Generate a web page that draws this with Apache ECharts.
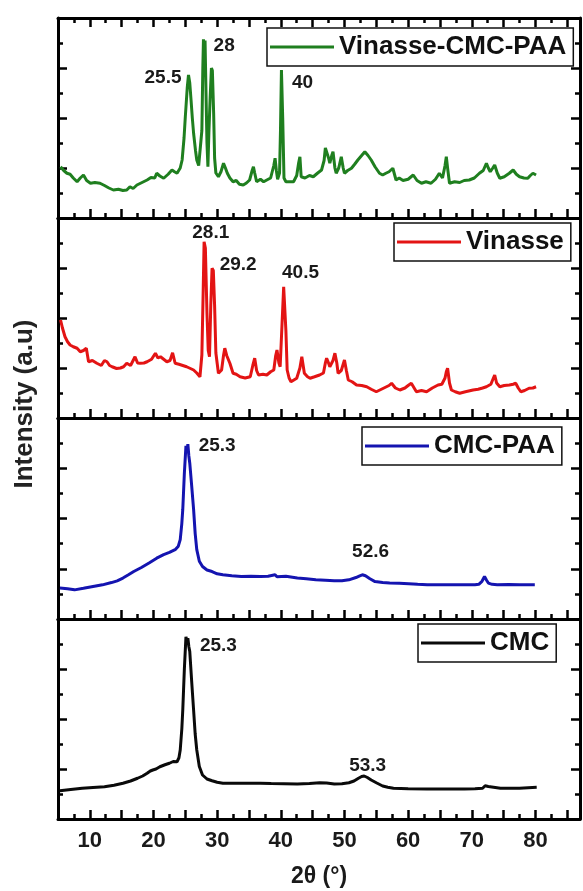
<!DOCTYPE html>
<html>
<head>
<meta charset="utf-8">
<script src="https://cdn.jsdelivr.net/npm/echarts@6/dist/echarts.min.js"></script>
<style>html,body{margin:0;padding:0;background:#fff}#c{width:583px;height:891px}</style>
</head>
<body>
<div id="c"></div>
<script>
// ---------- data (2θ in degrees, intensity in arbitrary units per panel) ----------
const seriesNames = ['Vinasse-CMC-PAA', 'Vinasse', 'CMC-PAA', 'CMC'];
const xTickValues = [10, 20, 30, 40, 50, 60, 70, 80];

const vinasseCmcPaa = [[5.4,2.05],[5.9,1.9],[6.4,1.79],[6.9,1.75],[7.4,1.6],[8.0,1.45],[8.5,1.6],[9.0,1.72],[9.5,1.5],[10.1,1.39],[10.8,1.42],[11.6,1.39],[12.3,1.3],[13.0,1.2],[13.7,1.12],[14.5,1.15],[15.2,1.1],[15.8,1.12],[16.3,1.25],[16.8,1.18],[17.4,1.32],[18.2,1.42],[19.0,1.52],[19.6,1.62],[20.2,1.6],[20.5,1.79],[21.0,1.68],[21.6,1.59],[22.3,1.75],[22.9,1.92],[23.3,1.85],[23.7,1.79],[24.2,2.0],[24.5,2.32],[24.8,3.2],[25.0,4.05],[25.3,5.2],[25.5,5.72],[25.7,5.4],[25.9,4.72],[26.1,4.0],[26.3,3.39],[26.6,2.7],[26.8,2.32],[27.1,2.1],[27.4,2.05],[27.6,3.5],[27.75,6.0],[27.85,7.15],[28.0,6.2],[28.1,7.1],[28.25,5.0],[28.4,3.0],[28.55,2.05],[28.7,3.4],[28.9,4.8],[29.1,6.0],[29.25,5.9],[29.45,4.2],[29.6,2.4],[29.8,1.8],[30.2,1.65],[30.6,1.85],[31.0,2.19],[31.3,2.0],[31.6,1.79],[32.0,1.6],[32.5,1.45],[33.0,1.5],[33.5,1.35],[34.1,1.32],[34.6,1.4],[35.1,1.52],[35.5,1.9],[35.7,2.05],[35.9,1.8],[36.2,1.45],[36.8,1.55],[37.3,1.45],[37.8,1.52],[38.4,1.6],[38.9,2.1],[39.1,2.39],[39.3,1.9],[39.5,1.55],[39.8,1.8],[39.95,3.5],[40.1,5.92],[40.3,4.0],[40.5,1.6],[40.8,1.45],[41.4,1.45],[42.0,1.45],[42.5,1.7],[42.8,2.2],[43.0,2.45],[43.2,1.65],[43.8,1.6],[44.5,1.7],[45.1,1.65],[45.8,1.8],[46.4,1.92],[46.8,2.3],[47.0,2.8],[47.2,2.85],[47.5,2.4],[47.7,2.19],[48.0,2.5],[48.2,2.65],[48.5,2.0],[48.7,1.79],[49.1,2.0],[49.5,2.45],[49.8,2.0],[50.0,1.79],[50.5,1.9],[51.1,1.99],[51.6,2.15],[52.1,2.32],[52.7,2.5],[53.2,2.65],[53.7,2.5],[54.2,2.32],[54.8,2.05],[55.5,1.79],[56.0,1.72],[56.5,1.79],[57.0,1.85],[57.6,1.99],[58.1,1.52],[58.6,1.6],[59.2,1.5],[60.0,1.55],[60.8,1.72],[61.4,1.5],[62.1,1.39],[62.8,1.45],[63.6,1.39],[64.3,1.55],[64.9,1.79],[65.4,1.6],[65.8,2.1],[66.0,2.45],[66.2,2.0],[66.5,1.39],[67.3,1.45],[68.1,1.42],[68.8,1.5],[69.6,1.52],[70.4,1.6],[71.2,1.79],[71.8,1.9],[72.3,2.19],[72.6,2.0],[72.9,1.85],[73.3,2.0],[73.6,2.12],[74.0,1.8],[74.4,1.59],[75.1,1.65],[75.9,1.79],[76.5,1.92],[77.0,1.75],[77.5,1.65],[78.2,1.6],[78.8,1.59],[79.2,1.7],[79.6,1.79],[80.1,1.72]];

const vinasse = [[5.4,3.92],[5.7,3.6],[6.1,3.25],[6.5,3.05],[6.9,2.92],[7.4,2.85],[8.0,2.79],[8.5,2.65],[9.0,2.7],[9.45,2.79],[9.8,2.25],[10.4,2.3],[11.1,2.19],[11.8,2.1],[12.3,2.3],[12.7,2.25],[13.1,2.1],[13.5,2.05],[14.2,1.98],[14.8,2.0],[15.3,2.05],[15.8,2.19],[16.4,2.1],[17.1,2.45],[17.5,2.2],[17.9,2.19],[18.5,2.2],[19.0,2.25],[19.7,2.35],[20.3,2.59],[20.7,2.4],[21.1,2.45],[21.6,2.35],[22.1,2.25],[22.6,2.3],[23.0,2.61],[23.4,2.19],[24.0,2.15],[24.6,2.1],[25.2,2.05],[25.8,1.98],[26.3,1.92],[26.8,1.8],[27.3,1.65],[27.6,2.52],[27.8,5.0],[27.95,7.05],[28.15,6.8],[28.4,4.2],[28.6,2.7],[28.8,2.45],[29.0,4.5],[29.2,5.99],[29.4,5.9],[29.6,4.5],[29.8,2.6],[30.2,1.79],[30.7,1.92],[31.0,2.5],[31.2,2.79],[31.5,2.5],[32.0,2.19],[32.5,1.79],[33.0,1.75],[33.6,1.65],[34.4,1.6],[35.2,1.65],[35.6,2.1],[35.9,2.39],[36.2,1.9],[36.5,1.72],[37.2,1.75],[37.8,1.72],[38.4,1.85],[38.9,1.92],[39.2,2.5],[39.4,2.72],[39.7,2.2],[39.9,2.05],[40.2,3.8],[40.45,5.25],[40.65,5.2],[40.8,3.5],[41.0,1.92],[41.3,1.6],[41.6,1.45],[41.9,1.39],[42.5,1.59],[43.0,2.0],[43.3,2.45],[43.7,1.79],[44.2,1.65],[44.6,1.59],[45.3,1.65],[46.1,1.72],[46.7,1.8],[47.0,2.2],[47.2,2.39],[47.5,2.2],[47.7,2.05],[48.2,2.3],[48.5,2.59],[48.8,2.2],[49.0,1.79],[49.5,1.9],[50.0,2.32],[50.3,1.9],[50.6,1.52],[51.2,1.45],[51.9,1.32],[52.7,1.3],[53.5,1.25],[54.2,1.15],[55.0,1.05],[55.8,1.15],[56.6,1.25],[57.0,1.3],[57.4,1.39],[58.0,1.2],[58.7,1.12],[59.5,1.2],[60.0,1.3],[60.5,1.39],[61.3,1.05],[62.1,1.1],[62.9,1.05],[63.8,1.2],[64.7,1.32],[65.3,1.35],[65.8,1.6],[66.0,1.85],[66.2,1.99],[66.5,1.4],[66.8,1.12],[67.4,1.05],[68.1,0.99],[69.0,1.05],[70.2,1.12],[71.0,1.15],[71.7,1.2],[72.3,1.25],[73.0,1.35],[73.4,1.6],[73.6,1.72],[73.9,1.4],[74.4,1.25],[75.1,1.3],[75.9,1.32],[76.5,1.35],[76.9,1.39],[77.3,1.2],[77.7,1.05],[78.3,1.1],[79.0,1.19],[79.6,1.2],[80.1,1.25]];

const cmcPaa = [[5.3,1.23],[6.5,1.2],[7.6,1.16],[9.0,1.22],[10.5,1.29],[12.0,1.36],[13.4,1.45],[14.3,1.52],[15.2,1.63],[16.0,1.75],[16.9,1.89],[18.1,2.05],[19.3,2.23],[20.5,2.42],[21.6,2.56],[22.5,2.65],[23.4,2.76],[23.9,2.9],[24.2,3.16],[24.45,3.8],[24.6,4.36],[24.85,5.8],[25.1,6.89],[25.25,6.6],[25.4,6.96],[25.55,6.5],[25.7,6.2],[26.0,5.3],[26.3,4.36],[26.55,3.4],[26.8,2.76],[27.2,2.3],[27.7,2.09],[28.4,1.95],[29.2,1.89],[30.0,1.8],[30.9,1.76],[32.3,1.72],[33.8,1.69],[35.3,1.7],[36.8,1.69],[38.0,1.7],[39.1,1.76],[39.4,1.68],[40.8,1.7],[42.6,1.63],[44.0,1.6],[45.5,1.56],[47.0,1.54],[48.4,1.52],[49.6,1.52],[50.7,1.56],[51.8,1.65],[52.4,1.72],[52.8,1.76],[53.3,1.72],[54.0,1.6],[54.8,1.49],[56.0,1.45],[57.1,1.43],[58.6,1.42],[60.1,1.4],[61.5,1.38],[63.0,1.36],[65.9,1.36],[68.8,1.36],[70.5,1.36],[71.1,1.38],[71.6,1.5],[72.0,1.69],[72.3,1.55],[72.6,1.43],[73.2,1.38],[74.0,1.36],[75.8,1.37],[77.5,1.36],[79.9,1.36]];

const cmc = [[5.3,1.13],[7.0,1.18],[8.8,1.23],[10.5,1.26],[12.3,1.29],[13.8,1.35],[15.2,1.43],[16.4,1.52],[17.5,1.63],[18.3,1.72],[19.0,1.83],[19.5,1.92],[19.9,1.96],[20.4,2.0],[21.0,2.09],[21.8,2.17],[22.5,2.23],[23.1,2.3],[23.7,2.29],[24.0,2.45],[24.2,2.76],[24.45,3.6],[24.6,4.36],[24.85,6.0],[25.1,7.29],[25.25,7.1],[25.4,7.23],[25.55,6.9],[25.7,6.7],[26.0,5.5],[26.3,4.36],[26.55,3.4],[26.8,2.76],[27.2,2.1],[27.7,1.76],[28.4,1.6],[29.2,1.53],[30.0,1.47],[30.9,1.43],[33.0,1.43],[35.0,1.43],[36.8,1.43],[38.5,1.42],[40.5,1.41],[42.6,1.40],[44.5,1.42],[46.1,1.45],[47.2,1.44],[48.4,1.40],[49.6,1.41],[50.7,1.45],[51.5,1.52],[52.2,1.63],[52.7,1.7],[53.1,1.72],[53.6,1.66],[54.2,1.56],[55.0,1.45],[56.0,1.32],[56.8,1.27],[57.7,1.23],[60.0,1.21],[63.0,1.2],[66.0,1.2],[68.8,1.2],[70.5,1.21],[71.7,1.23],[72.1,1.33],[72.3,1.40],[72.6,1.3],[72.9,1.23],[74.5,1.23],[77.5,1.23],[80.2,1.27]];

// peak annotations: [label, 2θ position of text centre, intensity position of text centre]
const peaksVinasseCmcPaa = [['25.5', 21.5, 5.6], ['28', 31.1, 6.9], ['40', 43.4, 5.4]];
const peaksVinasse = [['28.1', 29.0, 7.42], ['29.2', 33.3, 6.12], ['40.5', 43.1, 5.79]];
const peaksCmcPaa = [['25.3', 30.0, 6.89], ['52.6', 54.1, 2.66]];
const peaksCmc = [['25.3', 30.2, 6.93], ['53.3', 53.65, 2.14]];

// ---------- chart ----------
const FONT = '"Liberation Sans", Arial, sans-serif';
const colors = ['#1f7f1f', '#e31414', '#1414b0', '#0a0a0a'];
const datasets = [vinasseCmcPaa, vinasse, cmcPaa, cmc];
const peaks = [peaksVinasseCmcPaa, peaksVinasse, peaksCmcPaa, peaksCmc];
const gridBoxes = [{top: 18, height: 200}, {top: 218, height: 200}, {top: 418, height: 201}, {top: 619, height: 200}];
const legendBoxes = [{left: 267, top: 28}, {left: 394, top: 223}, {left: 362, top: 427}, {left: 418, top: 624}];

const X_MIN = 5, X_MAX = 87;
const lineCol = '#000';

const grid = gridBoxes.map(b => ({left: 58, right: 3, top: b.top, height: b.height, containLabel: false}));

const xAxis = [];
gridBoxes.forEach((b, g) => {
  const isLast = g === 3, isFirst = g === 0;
  xAxis.push({type: 'value', gridIndex: g, position: 'bottom', min: X_MIN, max: X_MAX, interval: 2.5,
    axisLine: {show: true, onZero: false, lineStyle: {color: lineCol, width: 3}},
    axisTick: {show: true, inside: true, length: 5, interval: 0, lineStyle: {color: lineCol, width: 2.5}},
    axisLabel: {show: false}, splitLine: {show: false}});
  xAxis.push({type: 'value', gridIndex: g, position: 'bottom', min: X_MIN, max: X_MAX, interval: 5,
    axisLine: {show: false, onZero: false},
    axisTick: {show: true, inside: true, length: 9, interval: 0, lineStyle: {color: lineCol, width: 2.5}},
    axisLabel: {show: isLast, interval: 0, margin: 11, fontSize: 22, fontWeight: 'bold', color: '#1a1a1a', fontFamily: FONT,
      formatter: v => xTickValues.indexOf(v) >= 0 ? String(v) : ''},
    splitLine: {show: false},
    name: isLast ? '2θ (°)' : '', nameLocation: 'middle', nameGap: 46,
    nameTextStyle: {fontSize: 23, fontWeight: 'bold', color: '#1a1a1a', fontFamily: FONT}});
  xAxis.push({type: 'value', gridIndex: g, position: 'top', min: X_MIN, max: X_MAX, interval: 2.5,
    axisLine: {show: true, onZero: false, lineStyle: {color: lineCol, width: 3}},
    axisTick: {show: isFirst, inside: true, length: 5, interval: 0, lineStyle: {color: lineCol, width: 2.5}},
    axisLabel: {show: false}, splitLine: {show: false}});
  xAxis.push({type: 'value', gridIndex: g, position: 'top', min: X_MIN, max: X_MAX, interval: 5,
    axisLine: {show: false, onZero: false},
    axisTick: {show: isFirst, inside: true, length: 9, interval: 0, lineStyle: {color: lineCol, width: 2.5}},
    axisLabel: {show: false}, splitLine: {show: false}});
});

const yAxis = [];
gridBoxes.forEach((b, g) => {
  ['left', 'right'].forEach(pos => {
    yAxis.push({type: 'value', gridIndex: g, position: pos, min: 0, max: 8, interval: 2,
      axisLine: {show: true, onZero: false, lineStyle: {color: lineCol, width: 3}},
      axisTick: {show: true, inside: true, length: 9, lineStyle: {color: lineCol, width: 2.5}},
      minorTick: {show: true, splitNumber: 2, length: 5, lineStyle: {color: lineCol, width: 2.5}},
      axisLabel: {show: false}, splitLine: {show: false}, minorSplitLine: {show: false}});
  });
});

const series = datasets.map((d, g) => ({
  name: seriesNames[g], type: 'line', xAxisIndex: 4 * g + 1, yAxisIndex: 2 * g,
  data: d, showSymbol: false, symbol: 'none', smooth: false,
  lineStyle: {color: colors[g], width: 3}, itemStyle: {color: colors[g]},
  markPoint: {
    symbol: 'circle', symbolSize: 1, silent: true, animation: false,
    itemStyle: {color: 'rgba(0,0,0,0)'},
    label: {show: true, position: 'inside', formatter: p => p.name, fontSize: 19, fontWeight: 'bold', color: '#1a1a1a', fontFamily: FONT},
    data: peaks[g].map(p => ({name: p[0], coord: [p[1], p[2]]}))
  }
}));

const legend = legendBoxes.map((lb, g) => ({
  data: [seriesNames[g]], left: lb.left, top: lb.top, orient: 'horizontal',
  icon: 'rect', itemWidth: 64, itemHeight: 3, itemGap: 0,
  padding: [6, 7, 6, 3], borderColor: '#111', borderWidth: 1.5, backgroundColor: '#fff',
  selectedMode: false,
  textStyle: {fontSize: 26, fontWeight: 'bold', color: '#111', fontFamily: FONT}
}));

const option = {
  animation: false,
  backgroundColor: '#fff',
  textStyle: {fontFamily: FONT},
  grid, xAxis, yAxis, series, legend,
  graphic: [{
    type: 'text', x: 25, y: 404, rotation: Math.PI / 2,
    style: {text: 'Intensity (a.u)', fontSize: 26, fontWeight: 'bold', fontFamily: FONT, fill: '#222',
      textAlign: 'center', textVerticalAlign: 'middle'}
  }]
};

const chart = echarts.init(document.getElementById('c'), null, {renderer: 'canvas'});
chart.setOption(option);
</script>
</body>
</html>
